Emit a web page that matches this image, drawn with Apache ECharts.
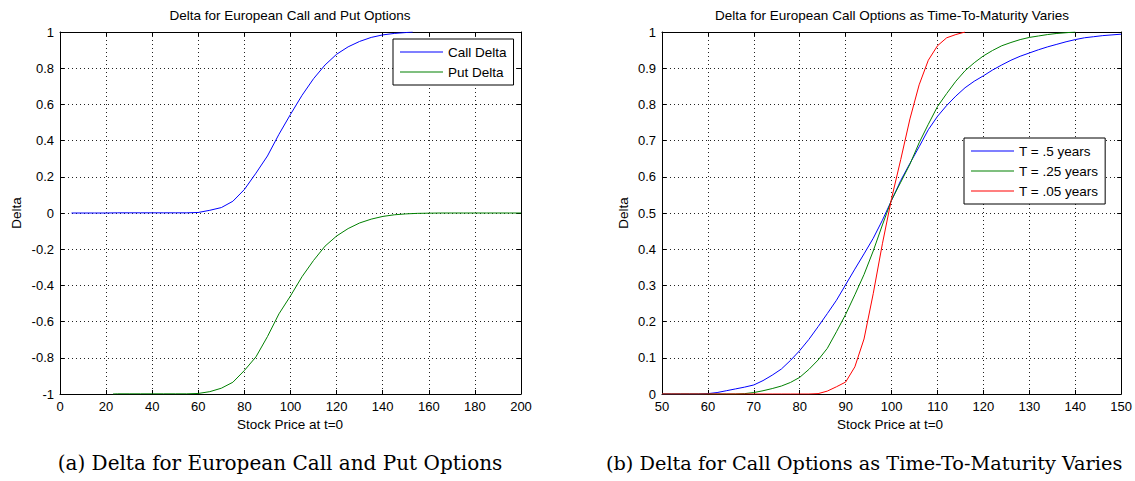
<!DOCTYPE html>
<html>
<head>
<meta charset="utf-8">
<script src="https://cdn.jsdelivr.net/npm/echarts@6/dist/echarts.min.js"></script>
<style>
html,body{margin:0;padding:0;background:#fff;}
#c{width:1135px;height:481px;}
</style>
</head>
<body>
<div id="c"></div>
<script>
// ---- Panel (a): call and put delta vs stock price ----
const callPrice = [5,10,15,20,25,30,35,40,45,50,55,60,65,70,75,80,85,90,95,100,105,110,115,120,125,130,135,140,145,150,153];
const callDelta = [0,0,0,0,0.001,0.001,0.001,0.001,0.001,0.001,0.001,0.003,0.015,0.03,0.065,0.13,0.22,0.315,0.435,0.545,0.65,0.742,0.818,0.877,0.918,0.948,0.97,0.984,0.992,0.997,1.0];
const putPrice = [23,25,30,35,40,45,50,55,60,65,70,75,80,85,90,95,100,105,110,115,120,125,130,135,140,145,150,155,160,165,170,175,180,185,190,195,200];
const putDelta = [-1,-0.999,-0.999,-0.999,-0.999,-0.999,-0.999,-0.999,-0.997,-0.987,-0.968,-0.935,-0.87,-0.795,-0.683,-0.557,-0.458,-0.352,-0.262,-0.183,-0.127,-0.086,-0.055,-0.034,-0.019,-0.01,-0.005,-0.002,-0.001,0,0,0,0,0,0,0,0];

// ---- Panel (b): call delta for three maturities ----
const priceB = [50,52,54,56,58,60,62,64,66,68,70,72,74,76,78,80,82,84,86,88,90,92,94,96,98,100,102,104,106,108,110,112,114,116,118,120,122,124,126,128,130,132,134,136,138,140,142,144,146,148,150];
const deltaT50 = [0,0,0,0,0,0.001,0.004,0.009,0.014,0.019,0.025,0.037,0.052,0.069,0.093,0.12,0.151,0.186,0.222,0.259,0.302,0.345,0.387,0.43,0.48,0.535,0.59,0.637,0.683,0.73,0.767,0.797,0.823,0.846,0.864,0.879,0.895,0.909,0.922,0.933,0.942,0.951,0.959,0.966,0.973,0.979,0.984,0.987,0.99,0.992,0.994];
const deltaT25 = [0,0,0,0,0,0,0,0,0,0.001,0.004,0.009,0.015,0.022,0.032,0.046,0.068,0.094,0.126,0.172,0.22,0.274,0.33,0.395,0.467,0.536,0.585,0.635,0.694,0.745,0.794,0.83,0.864,0.893,0.915,0.934,0.949,0.962,0.971,0.979,0.985,0.989,0.993,0.996,0.998,1.0];
const deltaT05 = [0,0,0,0,0,0,0,0,0,0,0,0,0,0,0,0,0,0.001,0.008,0.02,0.033,0.075,0.152,0.277,0.415,0.54,0.648,0.76,0.854,0.922,0.962,0.984,0.993,1.0];

const xTicksA = {min: 0, max: 200, interval: 20};
const yTicksA = {min: -1, max: 1, interval: 0.2};
const xTicksB = {min: 50, max: 150, interval: 10};
const yTicksB = {min: 0, max: 1, interval: 0.1};

const legendA = ['Call Delta', 'Put Delta'];
const legendB = ['T = .5 years', 'T = .25 years', 'T = .05 years'];

const zip = (xs, ys) => ys.map((y, i) => [xs[i], y]);

const SANS = '"Liberation Sans", Arial, Helvetica, sans-serif';
const SERIF = '"DejaVu Serif", "Liberation Serif", serif';

function xAx(grid, t, pos, labels) {
  return {
    type: 'value', gridIndex: grid, position: pos,
    min: t.min, max: t.max, interval: t.interval,
    axisLine: {show: true, onZero: false, lineStyle: {color: '#000', width: 1}},
    axisTick: {show: true, inside: true, length: 4, lineStyle: {color: '#000'}},
    axisLabel: {show: labels, color: '#000', fontFamily: SANS, fontSize: 13, margin: 6},
    splitLine: {show: labels, lineStyle: {color: '#222', width: 1, type: [1, 3]}}
  };
}
function yAx(grid, t, pos, labels) {
  return {
    type: 'value', gridIndex: grid, position: pos,
    min: t.min, max: t.max, interval: t.interval,
    axisLine: {show: true, onZero: false, lineStyle: {color: '#000', width: 1}},
    axisTick: {show: true, inside: true, length: 4, lineStyle: {color: '#000'}},
    axisLabel: {show: labels, color: '#000', fontFamily: SANS, fontSize: 13, margin: 6,
      formatter: v => String(Math.round(v * 10) / 10)},
    splitLine: {show: labels, lineStyle: {color: '#222', width: 1, type: [1, 3]}}
  };
}
function ln(name, data, color, xi, yi) {
  return {
    name: name, type: 'line', data: data, xAxisIndex: xi, yAxisIndex: yi,
    symbol: 'none', showSymbol: false, smooth: false, clip: true,
    lineStyle: {color: color, width: 1}, itemStyle: {color: color},
    emphasis: {disabled: true}, animation: false
  };
}
function legend(data, left, top) {
  return {
    data: data, orient: 'vertical', left: left, top: top,
    backgroundColor: '#fff', borderColor: '#000', borderWidth: 1, borderRadius: 0,
    padding: [6, 7, 6, 7], itemGap: 6, itemWidth: 43, itemHeight: 1.2, icon: 'rect',
    textStyle: {color: '#000', fontFamily: SANS, fontSize: 13.5, lineHeight: 14},
    selectedMode: false
  };
}
function txt(x, y, s, opt) {
  return Object.assign({
    type: 'text', x: x, y: y,
    style: Object.assign({text: s, fill: '#000', font: '13.5px ' + SANS, align: 'center', verticalAlign: 'middle'}, opt && opt.style || {})
  }, opt && opt.el || {});
}

const chart = echarts.init(document.getElementById('c'), null, {renderer: 'svg'});
chart.setOption({
  backgroundColor: '#fff',
  animation: false,
  grid: [
    {left: 60, top: 32, width: 461, height: 362},
    {left: 662, top: 32, width: 461, height: 362}
  ],
  xAxis: [
    xAx(0, xTicksA, 'bottom', true), xAx(0, xTicksA, 'top', false),
    xAx(1, xTicksB, 'bottom', true), xAx(1, xTicksB, 'top', false)
  ],
  yAxis: [
    yAx(0, yTicksA, 'left', true), yAx(0, yTicksA, 'right', false),
    yAx(1, yTicksB, 'left', true), yAx(1, yTicksB, 'right', false)
  ],
  legend: [legend(legendA, 393, 39), legend(legendB, 964, 138)],
  series: [
    ln(legendA[0], zip(callPrice, callDelta), '#0000ff', 0, 0),
    ln(legendA[1], zip(putPrice, putDelta), '#008000', 0, 0),
    ln(legendB[0], zip(priceB, deltaT50), '#0000ff', 2, 2),
    ln(legendB[1], zip(priceB, deltaT25), '#008000', 2, 2),
    ln(legendB[2], zip(priceB, deltaT05), '#ff0000', 2, 2)
  ],
  graphic: [
    txt(290, 15, 'Delta for European Call and Put Options'),
    txt(892, 15, 'Delta for European Call Options as Time-To-Maturity Varies'),
    txt(290, 424, 'Stock Price at t=0'),
    txt(890, 424, 'Stock Price at t=0'),
    txt(16, 213, 'Delta', {el: {rotation: Math.PI / 2}}),
    txt(623, 213, 'Delta', {el: {rotation: Math.PI / 2}}),
    txt(280, 463, '(a) Delta for European Call and Put Options', {style: {font: '20px ' + SERIF}}),
    txt(606, 463, '(b) Delta for Call Options as Time-To-Maturity Varies', {style: {font: '19.3px ' + SERIF, align: 'left'}})
  ]
});
</script>
</body>
</html>
